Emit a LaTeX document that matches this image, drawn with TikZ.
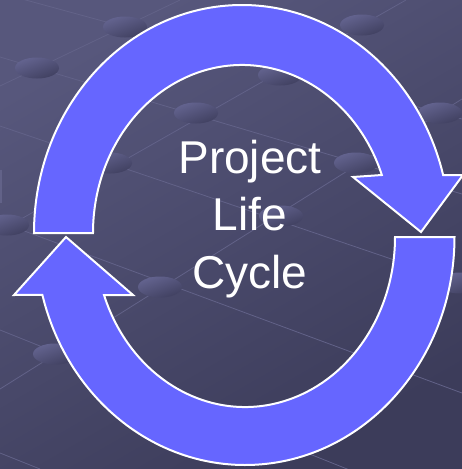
\documentclass[tikz,border=0pt]{standalone}
\usepackage{fontspec}
\setmainfont{Liberation Sans}
\definecolor{bgtop}{RGB}{87,87,124}
\definecolor{bgbottom}{RGB}{60,60,90}
\definecolor{dottop}{RGB}{100,100,144}
\definecolor{dotbottom}{RGB}{64,64,96}
\definecolor{gridline}{RGB}{98,98,136}
\definecolor{ringblue}{RGB}{102,102,255}
\begin{document}
\begin{tikzpicture}[x=1pt,y=-1pt,
  ring/.style={fill=ringblue,draw=white,line width=2pt,line join=miter},
  spot/.style={top color=dottop,bottom color=dotbottom,shading angle=20},
  grid/.style={draw=gridline,line width=0.8pt},
  cyctext/.style={anchor=base,text=white,font=\fontsize{46}{54}\selectfont,inner sep=0pt}]
\useasboundingbox (0,0) rectangle (462,469);
% Background
\shade[top color=bgtop,bottom color=bgbottom,shading angle=30] (0,0) rectangle (462,469);
\begin{scope}
\clip (0,0) rectangle (462,469);
% Grid rows
\draw[grid] (0,-7) -- (462,119) (0,57) -- (462,194) (0,126) -- (462,283) (0,222) -- (462,393) (0,330) -- (462,515) (0,453) -- (40,469);
% Grid columns
\draw[grid] (0,389) -- (462,99) (0,231) -- (406,0) (0,86) -- (180,0);
\fill[gridline] (0,170) rectangle (2,203);
% Spots
\shade[spot] (125,27) ellipse[x radius=22,y radius=10.5];
\shade[spot] (280,75) ellipse[x radius=22,y radius=10.5];
\shade[spot] (362,25) ellipse[x radius=22,y radius=10.5];
\shade[spot] (440,113) ellipse[x radius=22,y radius=10.5];
\shade[spot] (37,68) ellipse[x radius=22,y radius=10.5];
\shade[spot] (196,113) ellipse[x radius=22,y radius=10.5];
\shade[spot] (356,163) ellipse[x radius=22,y radius=10.5];
\shade[spot] (110,163) ellipse[x radius=22,y radius=10.5];
\shade[spot] (281,216) ellipse[x radius=22,y radius=10.5];
\shade[spot] (460,283) ellipse[x radius=22,y radius=10.5];
\shade[spot] (7,225) ellipse[x radius=22,y radius=10.5];
\shade[spot] (160,287) ellipse[x radius=22,y radius=10.5];
\shade[spot] (55,354) ellipse[x radius=22,y radius=10.5];
\end{scope}
% Arrow top
\begin{scope}[shift={(242,233)}]
\draw[ring] (180:208 and 228) arc[start angle=180,end angle=345.3,x radius=208,y radius=228] -- (221,-58) -- (179,-1) -- (111,-56) -- (339.8:149 and 168) arc[start angle=339.8,end angle=180,x radius=149,y radius=168] -- cycle;
\end{scope}
% Arrow bottom
\begin{scope}[shift={(245,237)}]
\draw[ring] (0:209.5 and 228) arc[start angle=0,end angle=165.3,x radius=209.5,y radius=228] -- (-231,58) -- (-179,0) -- (-112,58) -- (160.05:150 and 170) arc[start angle=160.05,end angle=0,x radius=150,y radius=170] -- cycle;
\end{scope}
% Title
\draw (250,173) node(lc1)[cyctext] {Project} (250,230) node(lc2)[cyctext] {Life} (250,288) node(lc3)[cyctext] {Cycle};
\end{tikzpicture}
\end{document}
